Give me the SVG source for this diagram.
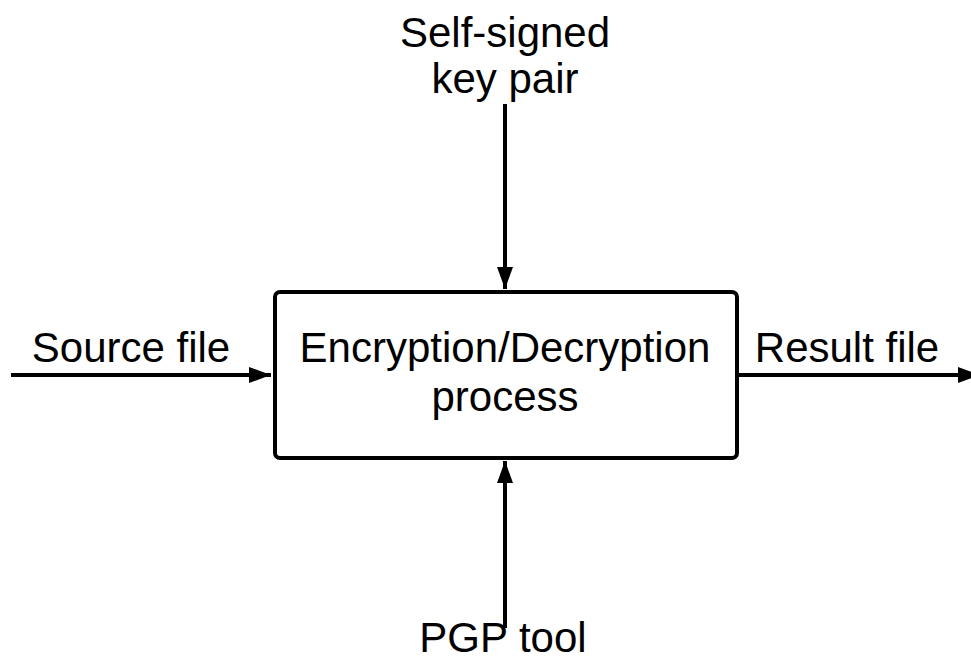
<svg xmlns="http://www.w3.org/2000/svg" width="971" height="666" viewBox="0 0 971 666">
<style>
.t{font-family:"Liberation Sans",Arial,sans-serif;font-size:42px;fill:#000;text-anchor:middle}
.c{stroke:#000;stroke-width:4;fill:none}
</style>
<defs>
<marker id="ah" viewBox="0 0 22 16" refX="22" refY="8" markerWidth="22" markerHeight="16" markerUnits="userSpaceOnUse" orient="auto">
<path d="M0,0 L22,8 L0,16 Z" fill="#000"/>
</marker>
</defs>
<rect width="971" height="666" fill="#fff"/>
<g id="process">
<rect x="275" y="292" width="462" height="166" rx="5" fill="#fff" stroke="#000" stroke-width="4"/>
<text class="t" x="505" y="362">Encryption/Decryption</text>
<text class="t" x="505" y="411">process</text>
</g>
<g id="keypair">
<text class="t" x="505" y="47">Self-signed</text>
<text class="t" x="505" y="93">key pair</text>
</g>
<g id="source">
<text class="t" x="131" y="362">Source file</text>
</g>
<g id="result">
<text class="t" x="847" y="362">Result file</text>
</g>
<g id="pgp">
<text class="t" x="503" y="652">PGP tool</text>
</g>
<g id="connectors">
<line class="c" x1="11" y1="375" x2="271" y2="375" marker-end="url(#ah)"/>
<line class="c" x1="739" y1="375" x2="980" y2="375" marker-end="url(#ah)"/>
<line class="c" x1="505" y1="104" x2="505" y2="289" marker-end="url(#ah)"/>
<line class="c" x1="505" y1="628" x2="505" y2="461" marker-end="url(#ah)"/>
</g>
</svg>
